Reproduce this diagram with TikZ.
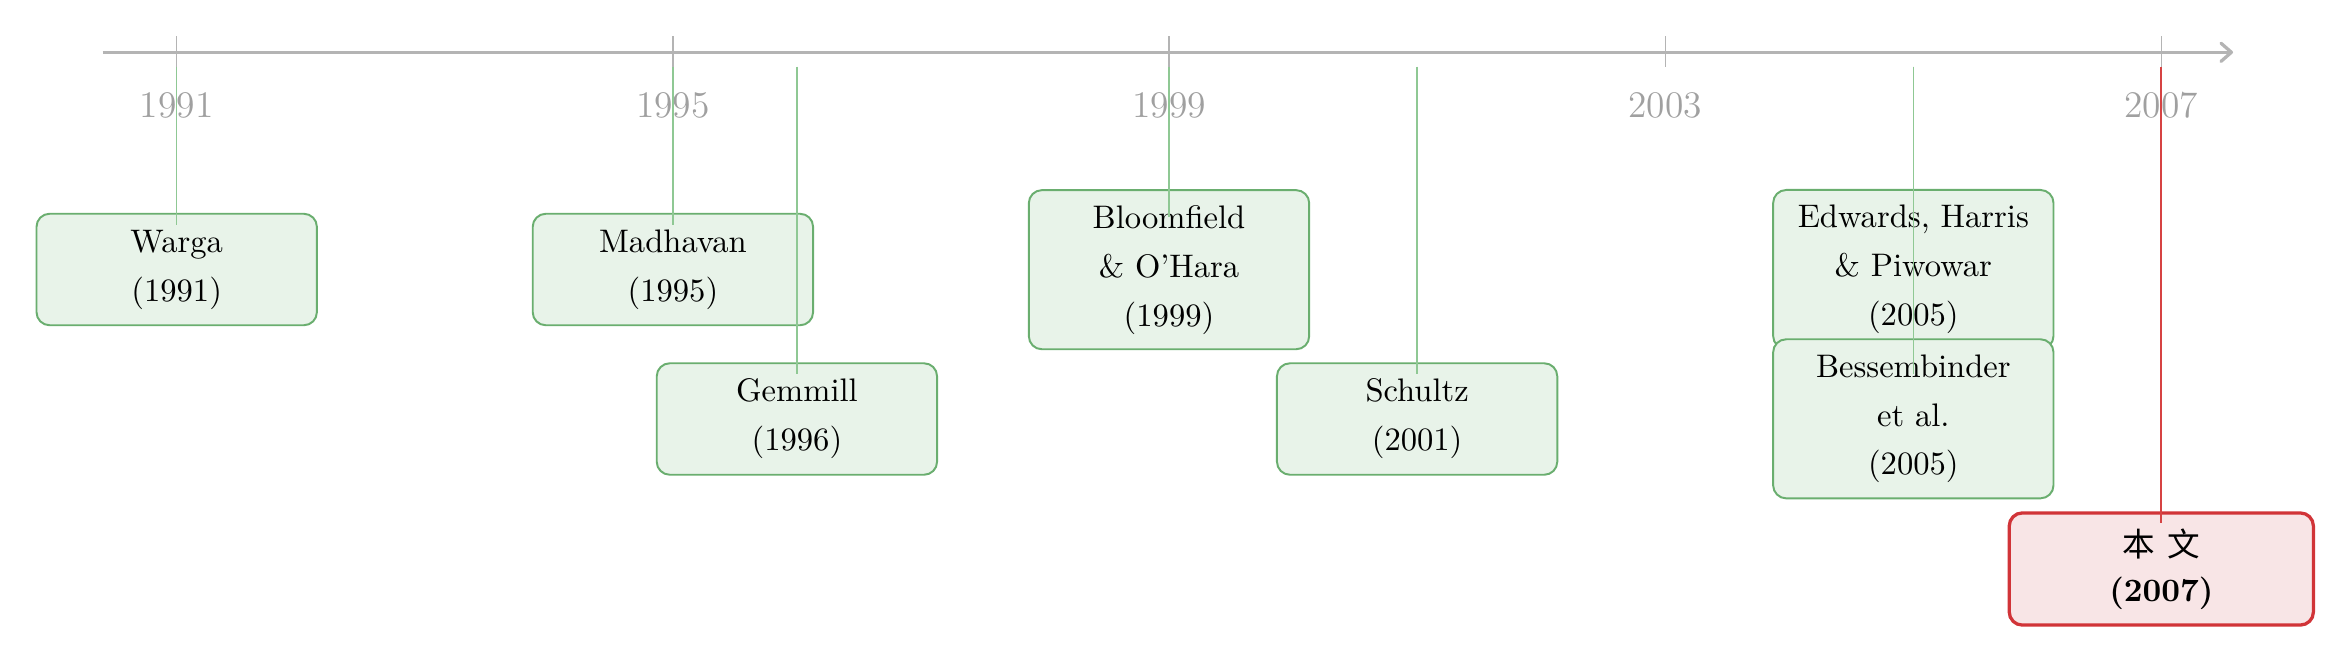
\documentclass[tikz,border=0pt]{standalone}
\usepackage{fontspec}
\newfontfamily\cjkfont{Noto Sans CJK SC}
\usetikzlibrary{arrows.meta}
\definecolor{axisgray}{HTML}{B4B4B4}
\definecolor{yeargray}{HTML}{A0A0A0}
\definecolor{gborder}{HTML}{6AAE6F}
\definecolor{gfill}{HTML}{E8F3E9}
\definecolor{gline}{HTML}{8FC894}
\definecolor{rborder}{HTML}{D13438}
\definecolor{rfill}{HTML}{F8E5E6}
\definecolor{rline}{HTML}{D64343}
\begin{document}
\begin{tikzpicture}[x=0.30675pt,y=-0.30675pt,
  paper/.style={draw=gborder, fill=gfill, line width=0.6pt, rounded corners=4pt,
    align=center, text width=80pt, inner xsep=3pt, inner ysep=0pt,
    minimum width=86pt, font=\fontsize{10}{15}\selectfont},
  twoline/.style={minimum height=34.2pt},
  threeline/.style={minimum height=48.8pt},
  ours/.style={draw=rborder, fill=rfill, line width=1pt, rounded corners=4pt,
    align=center, text width=85pt, inner xsep=4pt, inner ysep=0pt,
    minimum width=93.3pt, minimum height=34.4pt, font=\fontsize{10}{13.8}\selectfont},
  axisline/.style={draw=axisgray, line width=1pt},
  tickline/.style={draw=axisgray, line width=0.4pt},
  yearlabel/.style={text=yeargray, anchor=base, inner sep=0pt,
    font=\fontsize{11.5}{14}\selectfont},
  conn/.style={draw=gline, line width=0.45pt},
  connred/.style={draw=rline, line width=0.55pt}
]
\useasboundingbox (0,0) rectangle (2352,664);

% axis
\coordinate (axstart) at (102.7,52.3);
\coordinate (axend) at (2233,52.3);
\draw[axisline, -{Straight Barb[round,length=3.2pt,width=5.6pt]}] (axstart) -- (axend);

% ticks
\foreach \x in {176.7,672.9,1169.0,1665.2,2161.3}
  \draw[tickline] (\x,36) -- (\x,66.7);

% year labels
\node[yearlabel] (y1991) at (176.7,117.3) {1991};
\node[yearlabel] (y1995) at (672.9,117.3) {1995};
\node[yearlabel] (y1999) at (1169.0,117.3) {1999};
\node[yearlabel] (y2003) at (1665.2,117.3) {2003};
\node[yearlabel] (y2007) at (2161.3,117.3) {2007};

% connector start points
\coordinate (s1991) at (176.7,66.7);
\coordinate (s1995) at (672.9,66.7);
\coordinate (s1996) at (796.9,66.7);
\coordinate (s1999) at (1169.0,66.7);
\coordinate (s2001) at (1417.1,66.7);
\coordinate (s2005) at (1913.3,66.7);
\coordinate (s2007) at (2161.3,66.7);

% boxes
\node[paper,twoline] (warga) at (176.7,269.5) {Warga\\(1991)};
\node[paper,twoline] (madhavan) at (672.9,269.5) {Madhavan\\(1995)};
\node[paper,twoline] (gemmill) at (796.9,419) {Gemmill\\(1996)};
\node[paper,threeline] (bloomfield) at (1169.0,269.7) {Bloomfield\\\& O'Hara\\(1999)};
\node[paper,twoline] (schultz) at (1417.1,419) {Schultz\\(2001)};
\node[paper,threeline] (edwards) at (1913.3,269.5) {Edwards, Harris\\\& Piwowar\\(2005)};
\node[paper,threeline] (bessem) at (1913.3,418.8) {Bessembinder\\et al.\\(2005)};
\node[ours] (thiswork) at (2161.3,569) {{\cjkfont 本\hspace{3.6pt}文}\\\textbf{(2007)}};

% connectors
\draw[conn] (s1991) -- ([yshift=-3.7pt]warga.north);
\draw[conn] (s1995) -- ([yshift=-3.7pt]madhavan.north);
\draw[conn] (s1996) -- ([yshift=-3.6pt]gemmill.north);
\draw[conn] (s1999) -- ([yshift=-8.5pt]bloomfield.north);
\draw[conn] (s2001) -- ([yshift=-3.6pt]schultz.north);
\draw[conn] (s2005) -- ([yshift=-8.5pt]edwards.north);
\draw[conn] (s2005) -- ([yshift=-10.9pt]bessem.north);
\draw[connred] (s2007) -- ([yshift=-3.7pt]thiswork.north);
\end{tikzpicture}
\end{document}
